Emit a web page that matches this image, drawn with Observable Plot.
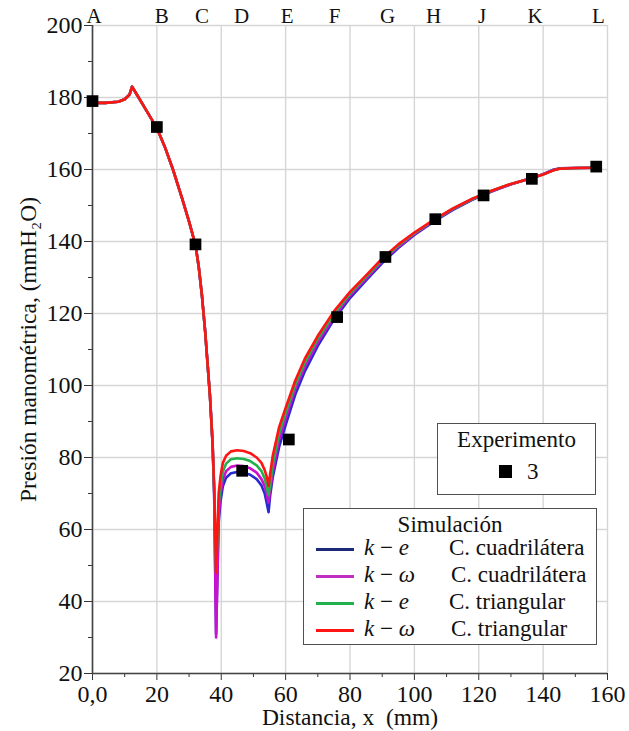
<!DOCTYPE html>
<html><head><meta charset="utf-8">
<script src="https://cdn.jsdelivr.net/npm/d3@7"></script>
<script src="https://cdn.jsdelivr.net/npm/@observablehq/plot@0.6"></script>
<style>
body{margin:0;background:#fff;}
#wrap{position:relative;width:629px;height:731px;font-family:"Liberation Serif","DejaVu Serif",serif;color:#111;}
#wrap svg text{font-family:"Liberation Serif","DejaVu Serif",serif;}
.box{position:absolute;border:1.5px solid #505050;background:#fff;box-sizing:border-box;}
.t{position:absolute;font-size:23px;line-height:24px;white-space:nowrap;}
.sw{position:absolute;height:3px;width:38px;}
.m{font-style:italic;font-size:23px;}
.mo{font-style:normal;}
</style></head>
<body><div id="wrap"></div>
<script>
// x positions along the nozzle (mm)
const dist = [0,4,8,10,11.5,12.3,14,17,20,22.5,25,28,30,32,33,34,35,36.5,37.3,37.8,38.4,39.2,39.8,40.5,41.5,43,45,47,49,51,52.5,53.5,54.2,54.7,55.2,56,58,60,63,66,70,75,80,85,90,95,100,106,112,118,124,130,136,140,143,145,150,156];
// shared upstream part (first 19 points)
const upstream = [178.5,178.5,178.8,179.5,180.8,183,180.5,176,171.5,166.2,160,151.5,145.5,139,133,125,115,97,84];
const tailKeCuad = [70,31,62,68,72,74.4,75.6,76,75.8,75.2,74,72.2,70,67,64.8,69.5,74.5,83,89,97.5,104,111,118.3,124.3,129.2,134,138.2,141.8,145.5,148.8,151.6,153.9,155.9,157.5,158.7,159.9,160.3,160.4,160.5];
const tailKwCuad = [70,30,64,70,73.8,76.2,77.4,77.8,77.6,77,75.8,74,72,69.5,67.5,71,76,85,90.8,99,105.3,112,119,125,129.7,134.5,138.5,142,145.7,149,151.7,154,155.9,157.5,158.7,159.8,160.3,160.4,160.5];
const tailKeTri = [71,48,67,72.5,76,78.3,79.5,79.8,79.6,79,77.8,76.2,74.2,71.5,69.5,72.5,78,86.8,92.3,100.2,106.4,113,119.8,125.5,130.2,134.9,138.9,142.3,145.9,149.1,151.8,154.1,156,157.5,158.6,159.7,160.2,160.4,160.5];
const tailKwTri = [72,48,70,75,78.5,80.5,81.7,82,81.8,81.2,80,78.5,76.5,74.5,72,75.5,80.5,88.5,93.8,101.4,107.5,113.8,120.6,126,130.6,135.3,139.2,142.5,146,149.2,151.9,154.1,156,157.5,158.6,159.7,160.2,160.4,160.5];
const seriesNames = ["ke-cuad","kw-cuad","ke-tri","kw-tri"];
const seriesColors = ["#2a2ad0","#cc10cc","#22b14c","#ff1414"];
// experiment 3
const expX = [0,20,32,46.5,61,76,91,106.5,121.5,136.5,156.5];
const expY = [179,171.8,139.2,76.3,85,119,135.7,146.2,152.8,157.4,160.8];
// pressure taps
const tapLetters = ["A","B","C","D","E","F","G","H","J","K","L"];
const tapX = [0.5,21.5,34,46.3,60.5,75.2,91.7,106,121,137.5,157.2];
const xTicks = [0,20,40,60,80,100,120,140,160];
const xMinor = [10,30,50,70,90,110,130,150];
const yTicks = [20,40,60,80,100,120,140,160,180,200];
const yMinor = [30,50,70,90,110,130,150,170,190];
const xLabel = "Distancia, x\u00a0 (mm)";
const yLabel = "Presión manométrica, (mmH\u2082O)";

const tails = [tailKeCuad, tailKwCuad, tailKeTri, tailKwTri];
const rows = [];
tails.forEach((tail, k) => {
  const ys = upstream.concat(tail);
  dist.forEach((x, i) => rows.push({x, y: ys[i], s: seriesNames[k]}));
});
const pts = expX.map((x, i) => ({x, y: expY[i]}));
const serif = "'Liberation Serif', 'DejaVu Serif', serif";

const chart = Plot.plot({
  width: 629, height: 731,
  marginLeft: 92, marginRight: 22, marginTop: 25, marginBottom: 58,
  x: {domain: [0, 160]},
  y: {domain: [20, 200]},
  color: {domain: seriesNames, range: seriesColors},
  style: {fontFamily: serif, fontSize: "24px", color: "#111", background: "transparent", overflow: "visible"},
  marks: [
    Plot.gridX({ticks: xTicks, stroke: "#d6d6d6", strokeOpacity: 1, strokeWidth: 1.4}),
    Plot.gridY({ticks: yTicks, stroke: "#d6d6d6", strokeOpacity: 1, strokeWidth: 1.4}),
    Plot.axisX({ticks: xTicks, tickFormat: d => d === 0 ? "0,0" : String(d), tickSize: 7, tickPadding: 4, label: null, stroke: "#333", fontSize: 24, fontFamily: serif}),
    Plot.axisX({ticks: xMinor, tickFormat: () => "", tickSize: 4, label: null, stroke: "#333"}),
    Plot.axisY({ticks: yTicks, tickSize: 8, tickPadding: 2, label: null, stroke: "#333", fontSize: 24, fontFamily: serif}),
    Plot.axisY({ticks: yMinor, tickFormat: () => "", tickSize: 4, label: null, stroke: "#333"}),
    Plot.ruleX([0], {stroke: "#444", strokeWidth: 1.6}),
    Plot.ruleY([20], {stroke: "#444", strokeWidth: 1.6}),
    Plot.line(rows, {x: "x", y: "y", z: "s", stroke: "s", strokeWidth: 2.6}),
    Plot.dot(pts, {x: "x", y: "y", symbol: "square", r: 6.6, fill: "#000", stroke: "none"}),
    Plot.text(tapLetters, {x: tapX, text: d => d, frameAnchor: "top", lineAnchor: "middle", dy: -9, fontSize: 21, fontFamily: serif, fill: "#111"}),
    Plot.text([yLabel], {text: d => d, frameAnchor: "left", textAnchor: "middle", lineAnchor: "middle", rotate: -90, dx: -64, fontSize: 23.5, fontFamily: serif, fill: "#111"}),
    Plot.text([xLabel], {text: d => d, frameAnchor: "bottom", textAnchor: "middle", lineAnchor: "middle", dy: 44, fontSize: 23.5, fontFamily: serif, fill: "#111"})
  ]
});
const wrap = document.getElementById("wrap");
wrap.appendChild(chart);

// legends
const legExp = document.createElement("div");
legExp.className = "box";
Object.assign(legExp.style, {left: "437px", top: "423px", width: "159px", height: "72px"});
legExp.innerHTML = `<div class="t" style="left:0;right:0;top:4px;text-align:center;">Experimento</div>
<div style="position:absolute;left:61px;top:41px;width:13px;height:13px;background:#000;"></div>
<div class="t" style="left:89px;top:36px;">3</div>`;
wrap.appendChild(legExp);

const legSim = document.createElement("div");
legSim.className = "box";
Object.assign(legSim.style, {left: "303px", top: "508px", width: "294px", height: "137px"});
const simRows = [
  ["<i>k</i> <span class='mo'>\u2212</span> <i>e</i>", "C. cuadrilátera"],
  ["<i>k</i> <span class='mo'>\u2212</span> <i>\u03c9</i>", "C. cuadrilátera"],
  ["<i>k</i> <span class='mo'>\u2212</span> <i>e</i>", "C. triangular"],
  ["<i>k</i> <span class='mo'>\u2212</span> <i>\u03c9</i>", "C. triangular"]
];
const swatchColors = ["#1c2a7a","#c030c0","#22b14c","#ff1414"];
const rowY = [40, 67, 94, 121];
let html = `<div class="t" style="left:0;right:0;top:4px;text-align:center;">Simulación</div>`;
simRows.forEach((r, i) => {
  html += `<div class="sw" style="left:12px;top:${rowY[i] - 1.5}px;background:${swatchColors[i]};"></div>`;
  html += `<div class="t m" style="left:60px;top:${rowY[i] - 13}px;">${r[0]}</div>`;
  html += `<div class="t" style="left:${i % 2 ? 147 : 145}px;top:${rowY[i] - 13}px;">${r[1]}</div>`;
});
legSim.innerHTML = html;
wrap.appendChild(legSim);
</script>
</body></html>
